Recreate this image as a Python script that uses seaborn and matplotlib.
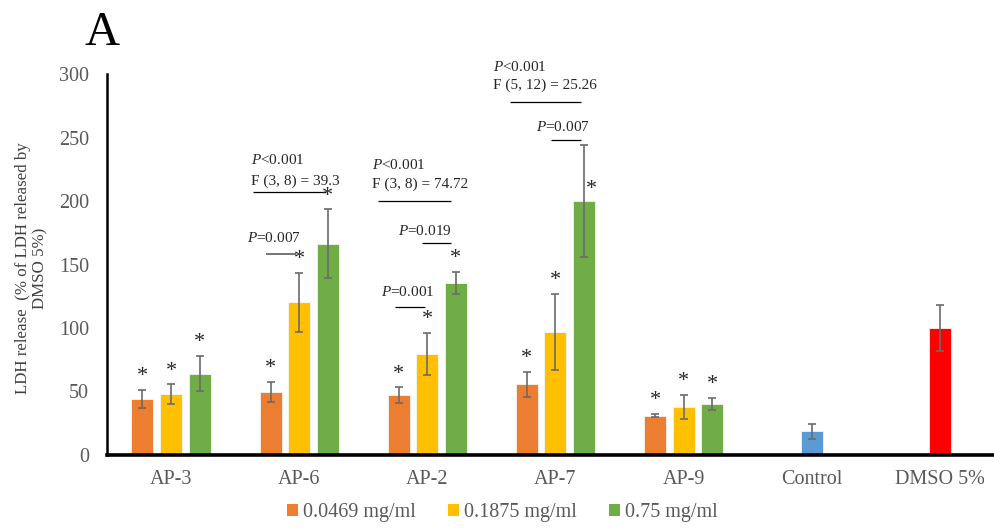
import numpy as np
import pandas as pd
import seaborn as sns
import matplotlib
matplotlib.use("Agg")
import matplotlib.pyplot as plt
from matplotlib.patches import Patch

# ---- data -------------------------------------------------------------
categories = ["AP-3", "AP-6", "AP-2", "AP-7", "AP-9", "Control", "DMSO 5%"]
compounds = ["AP-3", "AP-6", "AP-2", "AP-7", "AP-9"]
conc_labels = ["0.0469 mg/ml", "0.1875 mg/ml", "0.75 mg/ml"]

low_mean = [44.0, 49.4, 47.2, 55.6, 31.0]
mid_mean = [48.0, 120.2, 79.5, 96.6, 37.8]
high_mean = [64.0, 166.4, 135.4, 200.0, 40.2]
low_sd = [7.0, 8.0, 6.0, 10.0, 1.5]
mid_sd = [7.5, 23.0, 16.5, 30.0, 9.5]
high_sd = [14.0, 27.0, 8.5, 44.0, 4.6]

ref_names = ["Control", "DMSO 5%"]
ref_mean = [18.6, 100.0]
ref_sd = [5.8, 18.0]

conc_colors = ["#ED7D31", "#FFC000", "#70AD47"]
ref_colors = ["#5B9BD5", "#FF0000"]

y_ticks = [0, 50, 100, 150, 200, 250, 300]

# ---- style ------------------------------------------------------------
sns.set_style("white")
plt.rcParams["font.family"] = ["Liberation Serif", "DejaVu Serif"]
plt.rcParams["mathtext.fontset"] = "custom"
plt.rcParams["mathtext.rm"] = "Liberation Serif"
plt.rcParams["mathtext.it"] = "Liberation Serif:italic"

GREY = "#595959"

fig = plt.figure(figsize=(9.95, 5.29), dpi=100)
ax = fig.add_axes([0.1075, 0.140, 0.8925, 0.720])

means = [low_mean, mid_mean, high_mean]
sds = [low_sd, mid_sd, high_sd]
df = pd.DataFrame({
    "compound": np.tile(compounds, 3),
    "conc": np.repeat(conc_labels, len(compounds)),
    "value": np.concatenate(means),
})
df_ref = pd.DataFrame({"compound": ref_names, "value": ref_mean})

sns.barplot(data=df, x="compound", y="value", hue="conc", order=categories,
            hue_order=conc_labels, palette=conc_colors, saturation=1,
            width=0.67, gap=0.23, errorbar=None, edgecolor="#f4f4f4",
            linewidth=0.6, legend=False, ax=ax)
conc_containers = list(ax.containers)
sns.barplot(data=df_ref, x="compound", y="value", hue="compound", order=categories,
            hue_order=ref_names, palette=ref_colors, saturation=1, width=0.172,
            errorbar=None, edgecolor="#f4f4f4", linewidth=0.6, legend=False, ax=ax)
ref_containers = list(ax.containers[len(conc_containers):])

err_kw = dict(fmt="none", ecolor="#6b6b6b", elinewidth=1.2, capsize=3.2,
              capthick=1.2, zorder=4)

# error bars and significance stars for the concentration series
for ci, cont in enumerate(conc_containers):
    bars = sorted(cont.patches, key=lambda p: p.get_x())
    xs = [b.get_x() + b.get_width() / 2 for b in bars]
    hs = [b.get_height() for b in bars]
    ax.errorbar(xs, hs, yerr=sds[ci], **err_kw)
    for k, (x, h) in enumerate(zip(xs, hs)):
        top = h + sds[ci][k]
        if compounds[k] == "AP-7" and ci == 2:
            # star sits beside the long error bar
            ax.text(x + 0.06, h + 9, "*", ha="center", va="center",
                    fontsize=16, color="#262626")
        else:
            ax.text(x, top + 10.5, "*", ha="center", va="center",
                    fontsize=16, color="#262626")

# error bars for the reference bars
ref_bars = []
for cont in ref_containers:
    ref_bars.extend(cont.patches)
ref_bars = sorted(ref_bars, key=lambda p: p.get_x())
ax.errorbar([b.get_x() + b.get_width() / 2 for b in ref_bars],
            [b.get_height() for b in ref_bars], yerr=ref_sd, **err_kw)

# ---- statistics annotations -------------------------------------------
ann_size = 11
TXT = "#262626"


def stat_text(x, y, s):
    ax.text(x, y, s, ha="left", va="center", fontsize=ann_size, color=TXT,
            clip_on=False)


def stat_line(x0, x1, y, color="black", lw=0.9):
    ax.plot([x0, x1], [y, y], color=color, lw=lw, clip_on=False,
            solid_capstyle="butt")


# AP-6
stat_text(0.625, 232.3, r"$P$<0.001")
stat_text(0.625, 215.7, "F (3, 8) = 39.3")
stat_line(0.64, 1.21, 207.0)
stat_text(0.593, 170.9, r"$P$=0.007")
stat_line(0.742, 0.976, 158.3, color="#6b6b6b", lw=1.3)

# AP-2
stat_text(1.569, 228.3, r"$P$<0.001")
stat_text(1.569, 213.4, "F (3, 8) = 74.72")
stat_line(1.616, 2.186, 200.0)
stat_text(1.772, 176.4, r"$P$=0.019")
stat_line(1.959, 2.186, 166.9)
stat_text(1.639, 128.3, r"$P$=0.001")
stat_line(1.749, 1.983, 116.5)

# AP-7
stat_text(2.514, 305.5, r"$P$<0.001")
stat_text(2.514, 291.3, "F (5, 12) = 25.26")
stat_line(2.646, 3.20, 278.2)
stat_text(2.849, 258.3, r"$P$=0.007")
stat_line(2.966, 3.20, 248.0)

# ---- axes ---------------------------------------------------------------
ax.set_xlim(-0.5, 6.43)
ax.set_ylim(0, 300)
ax.set_yticks(y_ticks)
ax.set_yticklabels([str(t) for t in y_ticks])
ax.tick_params(axis="both", length=0, labelsize=14.5, labelcolor=GREY)
ax.tick_params(axis="y", pad=13)
ax.tick_params(axis="x", pad=11)
ax.set_xlabel("")
ax.set_ylabel("LDH release  (% of LDH released by\nDMSO 5%)", fontsize=12.2,
              color="#404040", linespacing=1.1)
ax.yaxis.set_label_coords(-0.066, 0.49)
for side in ("top", "right"):
    ax.spines[side].set_visible(False)
ax.spines["left"].set_color("black")
ax.spines["left"].set_linewidth(1.8)
ax.spines["bottom"].set_color("black")
ax.spines["bottom"].set_linewidth(2.6)
ax.grid(False)

handles = [Patch(facecolor=c, edgecolor="none") for c in conc_colors]
leg = fig.legend(handles, conc_labels, loc="center", bbox_to_anchor=(0.505, 0.031),
                 ncol=3, frameon=False, fontsize=14.5, handlelength=0.55,
                 handleheight=0.55, handletextpad=0.25, columnspacing=1.6)
for t in leg.get_texts():
    t.set_color(GREY)

fig.text(0.085, 1 - 45 / 529, "A", fontsize=35, color="black", ha="left",
         va="baseline")

fig.savefig("out.png", dpi=100)
